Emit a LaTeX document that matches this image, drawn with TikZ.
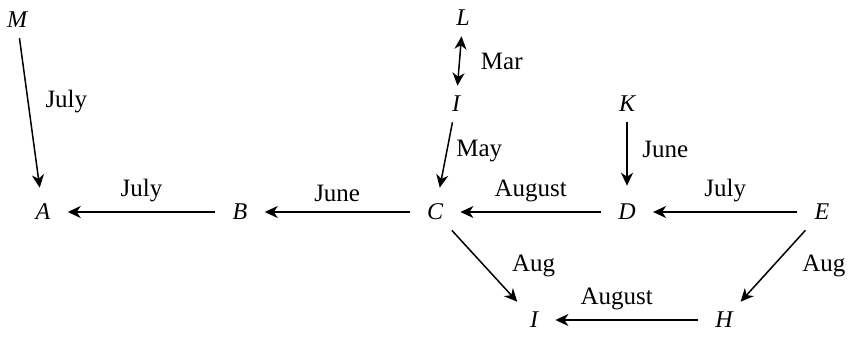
\documentclass[tikz,border=0pt]{standalone}
\usepackage{fontspec}
\setmainfont{Liberation Serif}
\usetikzlibrary{arrows.meta}
\begin{document}
\begin{tikzpicture}[x=0.5pt,y=-0.5pt,
  vtx/.style={font=\fontsize{12}{14}\selectfont\itshape, inner xsep=8.5pt, inner ysep=5pt},
  lbl/.style={font=\fontsize{12.5}{14}\selectfont},
  arr/.style={line width=0.75pt, -{Stealth[length=6.5pt,width=6pt,inset=2pt]}},
  darr/.style={line width=0.75pt, {Stealth[length=6.5pt,width=6pt,inset=2pt]}-{Stealth[length=6.5pt,width=6pt,inset=2pt]}}]
\useasboundingbox (0,0) rectangle (849,346);
\node[vtx] (M) at (17,20) {M};
\node[vtx] (L) at (463,18) {L};
\node[vtx] (I1) at (456,104) {I};
\node[vtx] (K) at (627,104) {K};
\node[vtx] (A) at (43,212) {A};
\node[vtx] (B) at (240,212) {B};
\node[vtx] (C) at (435,212) {C};
\node[vtx] (D) at (627,212) {D};
\node[vtx] (E) at (822,212) {E};
\node[vtx] (I2) at (534,320) {I};
\node[vtx] (H) at (724,320) {H};
\draw[arr, shorten >=3pt] (M) -- (A) node[lbl, pos=0.41, right=5pt] {July};
\draw[darr] (L) -- (I1) node[lbl, pos=0.5, right=7pt] {Mar};
\draw[arr, shorten >=3pt] (I1) -- (C) node[lbl, pos=0.4, right=1pt] {May};
\draw[arr, shorten >=4pt] (K) -- (D) node[lbl, pos=0.38, right=4pt] {June};
\draw[arr] (B) -- (A) node[lbl, midway, above=1.5pt] {July};
\draw[arr] (C) -- (B) node[lbl, midway, above=1.5pt] {June};
\draw[arr] (D) -- (C) node[lbl, midway, above=1.5pt] {August};
\draw[arr] (E) -- (D) node[lbl, midway, above=1.5pt] {July};
\draw[arr] (C) -- (I2) node[lbl, pos=0.5, right=10pt] {Aug};
\draw[arr] (E) -- (H) node[lbl, pos=0.5, right=11pt] {Aug};
\draw[arr] (H) -- (I2) node[lbl, pos=0.57, above=1.5pt] {August};
\end{tikzpicture}
\end{document}
